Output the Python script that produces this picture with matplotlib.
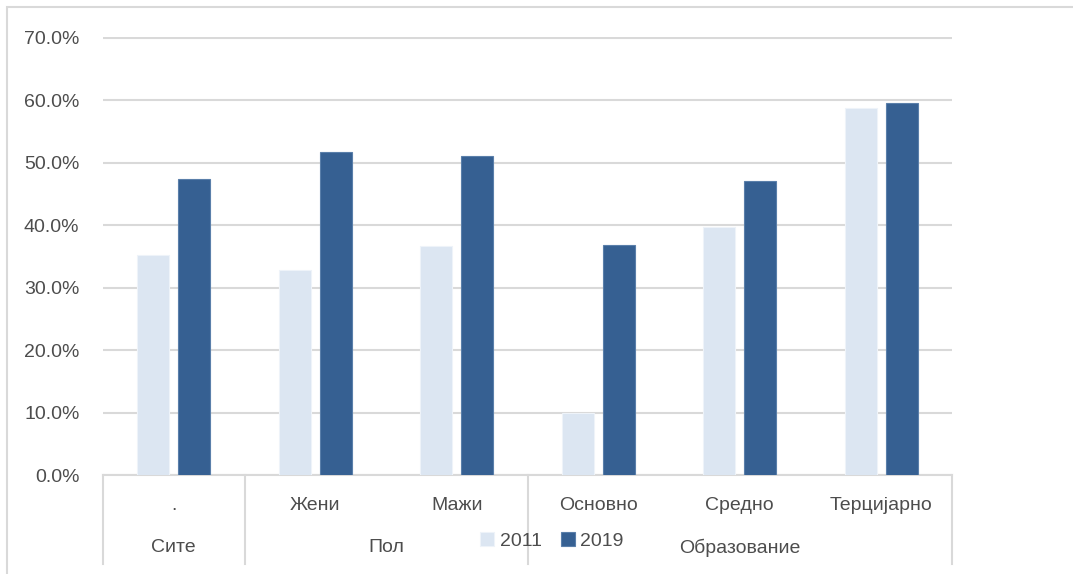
import matplotlib.pyplot as plt
from matplotlib.patches import Rectangle
from matplotlib.ticker import FuncFormatter
import matplotlib.transforms as mtransforms
import numpy as np

plt.rcParams["font.family"] = ["Liberation Sans Narrow", "Liberation Sans", "DejaVu Sans"]

categories = [".", "Жени", "Мажи", "Основно", "Средно", "Терцијарно"]
groups = ["Сите", "Пол", "Образование"]
group_sizes = [1, 2, 3]
years = ["2011", "2019"]
values_2011 = [35.2, 32.8, 36.6, 10.0, 39.7, 58.7]
values_2019 = [47.4, 51.8, 51.1, 36.9, 47.1, 59.5]

LIGHT = "#DCE6F2"
DARK = "#366092"
GRID = "#D9D9D9"
TEXT = "#4D4D4D"

fig = plt.figure(figsize=(10.73, 5.74), dpi=100)
ax = fig.add_axes([103 / 1073, 1 - 475 / 574, (952 - 103) / 1073, (475 - 37) / 574])

x = np.arange(len(categories))
w = 0.223
ax.bar(x - 0.145, values_2011, w, color=LIGHT, edgecolor="#EEF3F9", linewidth=0.8, label=years[0], zorder=3)
ax.bar(x + 0.145, values_2019, w, color=DARK, edgecolor="#5A7FAA", linewidth=0.8, label=years[1], zorder=3)

ax.set_xlim(-0.5, len(categories) - 0.5)
ax.set_ylim(0, 70.15)
ax.set_yticks(np.arange(0, 71, 10))
ax.yaxis.set_major_formatter(FuncFormatter(lambda v, p: f"{v:.1f}%"))
ax.grid(axis="y", color=GRID, linewidth=1.5, zorder=0)
for s in ["top", "right", "left"]:
    ax.spines[s].set_visible(False)
ax.spines["bottom"].set_color(GRID)
ax.spines["bottom"].set_linewidth(1.5)
ax.tick_params(axis="y", length=0, labelsize=14, labelcolor=TEXT, pad=17)
ax.set_xticks([])

# multi-level category axis
trans = mtransforms.blended_transform_factory(ax.transData, ax.transAxes)
bottom = -(564 - 475) / 438
for i, c in enumerate(categories):
    ax.text(i, -(505 - 475) / 438, c, transform=trans, ha="center", va="center",
            fontsize=14, color=TEXT)
start = 0
for g, n in zip(groups, group_sizes):
    ax.plot([start - 0.5, start - 0.5], [0, bottom], transform=trans, color=GRID,
            linewidth=1.5, clip_on=False)
    ax.text(start - 0.5 + n / 2, -(548 - 475) / 438, g, transform=trans, ha="center",
            va="center", fontsize=14, color=TEXT)
    start += n
ax.plot([start - 0.5, start - 0.5], [0, bottom], transform=trans, color=GRID,
        linewidth=1.5, clip_on=False)

fig.legend(loc="center", bbox_to_anchor=(552 / 1073, 1 - 541 / 574), ncol=2, frameon=False,
           fontsize=14, handlelength=0.7, handleheight=0.7, handletextpad=0.3,
           columnspacing=1.0, labelcolor=TEXT)

# chart border
fig.patches.append(Rectangle((7 / 1073, -0.1), 1.2, 1 - 7 / 574 + 0.1, transform=fig.transFigure,
                             fill=False, edgecolor=GRID, linewidth=1.5))

fig.savefig("out.png", dpi=100)
